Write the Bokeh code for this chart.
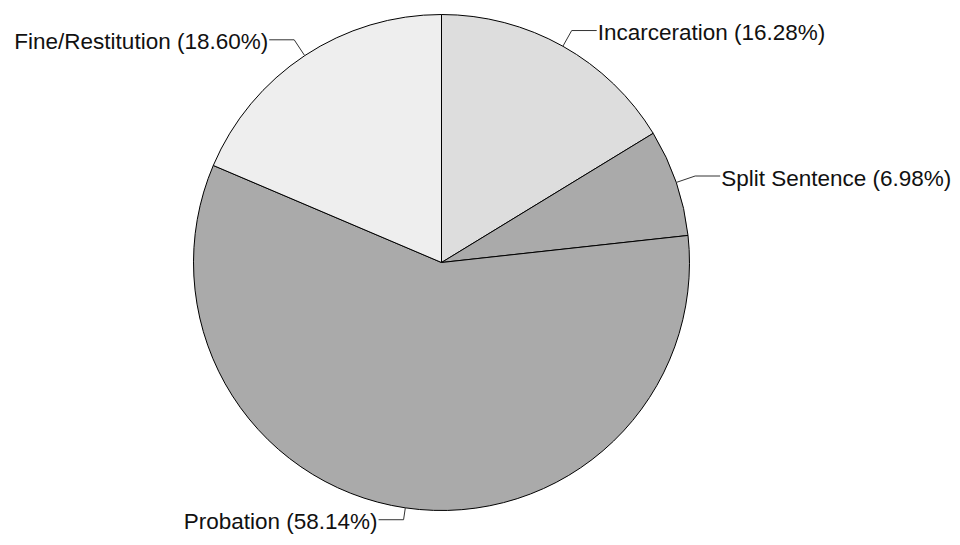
import math
from bokeh.plotting import figure
from bokeh.models import Range1d, ColumnDataSource
from bokeh.core.properties import value
from bokeh.embed import file_html
from bokeh.resources import INLINE

# ---- data ----
categories = ["Incarceration", "Split Sentence", "Probation", "Fine/Restitution"]
percents = [16.28, 6.98, 58.14, 18.60]
colors = ["#DDDDDD", "#AAAAAA", "#AAAAAA", "#EEEEEE"]

# ---- layout ----
W, H = 960, 545
CX, CY = 441, 283          # pie centre (data units == px, y up)
R = 248                    # pie radius
leader_ext = [18, 20, 12, 19]   # radial leader length per label
HSEG = 25                  # horizontal leader length
FONT = "Liberation Sans"

p = figure(width=W, height=H, output_backend="svg", toolbar_location=None,
           x_range=Range1d(0, W), y_range=Range1d(0, H),
           min_border=0, outline_line_color=None)
p.axis.visible = False
p.grid.visible = False
p.background_fill_color = "white"
p.border_fill_color = "white"

total = sum(percents)
starts, ends, mids = [], [], []
cum = 0.0
for v in percents:
    f0 = cum / total
    f1 = (cum + v) / total
    # clockwise from 12 o'clock -> bokeh anticlock angles
    starts.append(math.pi / 2 - 2 * math.pi * f1)
    ends.append(math.pi / 2 - 2 * math.pi * f0)
    mids.append(math.pi / 2 - 2 * math.pi * (f0 + f1) / 2)
    cum += v

src = ColumnDataSource(dict(start=starts, end=ends, color=colors))
p.wedge(x=CX, y=CY, radius=R, start_angle="start", end_angle="end",
        direction="anticlock", fill_color="color", line_color="black",
        line_width=1, source=src)

xs, ys, tx, ty, labels, aligns = [], [], [], [], [], []
for name, pct, a, ext in zip(categories, percents, mids, leader_ext):
    x0 = CX + R * math.cos(a)
    y0 = CY + R * math.sin(a)
    x1 = CX + (R + ext) * math.cos(a)
    y1 = CY + (R + ext) * math.sin(a)
    right = math.cos(a) >= 0
    x2 = x1 + HSEG if right else x1 - HSEG
    xs.append([x0, x1, x2])
    ys.append([y0, y1, y1])
    tx.append(x2 + 1 if right else x2 - 1)
    ty.append(y1)
    labels.append(f"{name} ({pct:.2f}%)")
    aligns.append("left" if right else "right")

p.multi_line(xs=xs, ys=ys, line_color="#333333", line_width=1)
lsrc = ColumnDataSource(dict(x=tx, y=ty, text=labels, align=aligns))
p.text(x="x", y="y", text="text", text_align="align", text_baseline="middle",
       y_offset=2, text_font=value(FONT), text_font_size="22.5px",
       text_color="#111111", source=lsrc)

open("out.html", "w").write(file_html(p, INLINE))
